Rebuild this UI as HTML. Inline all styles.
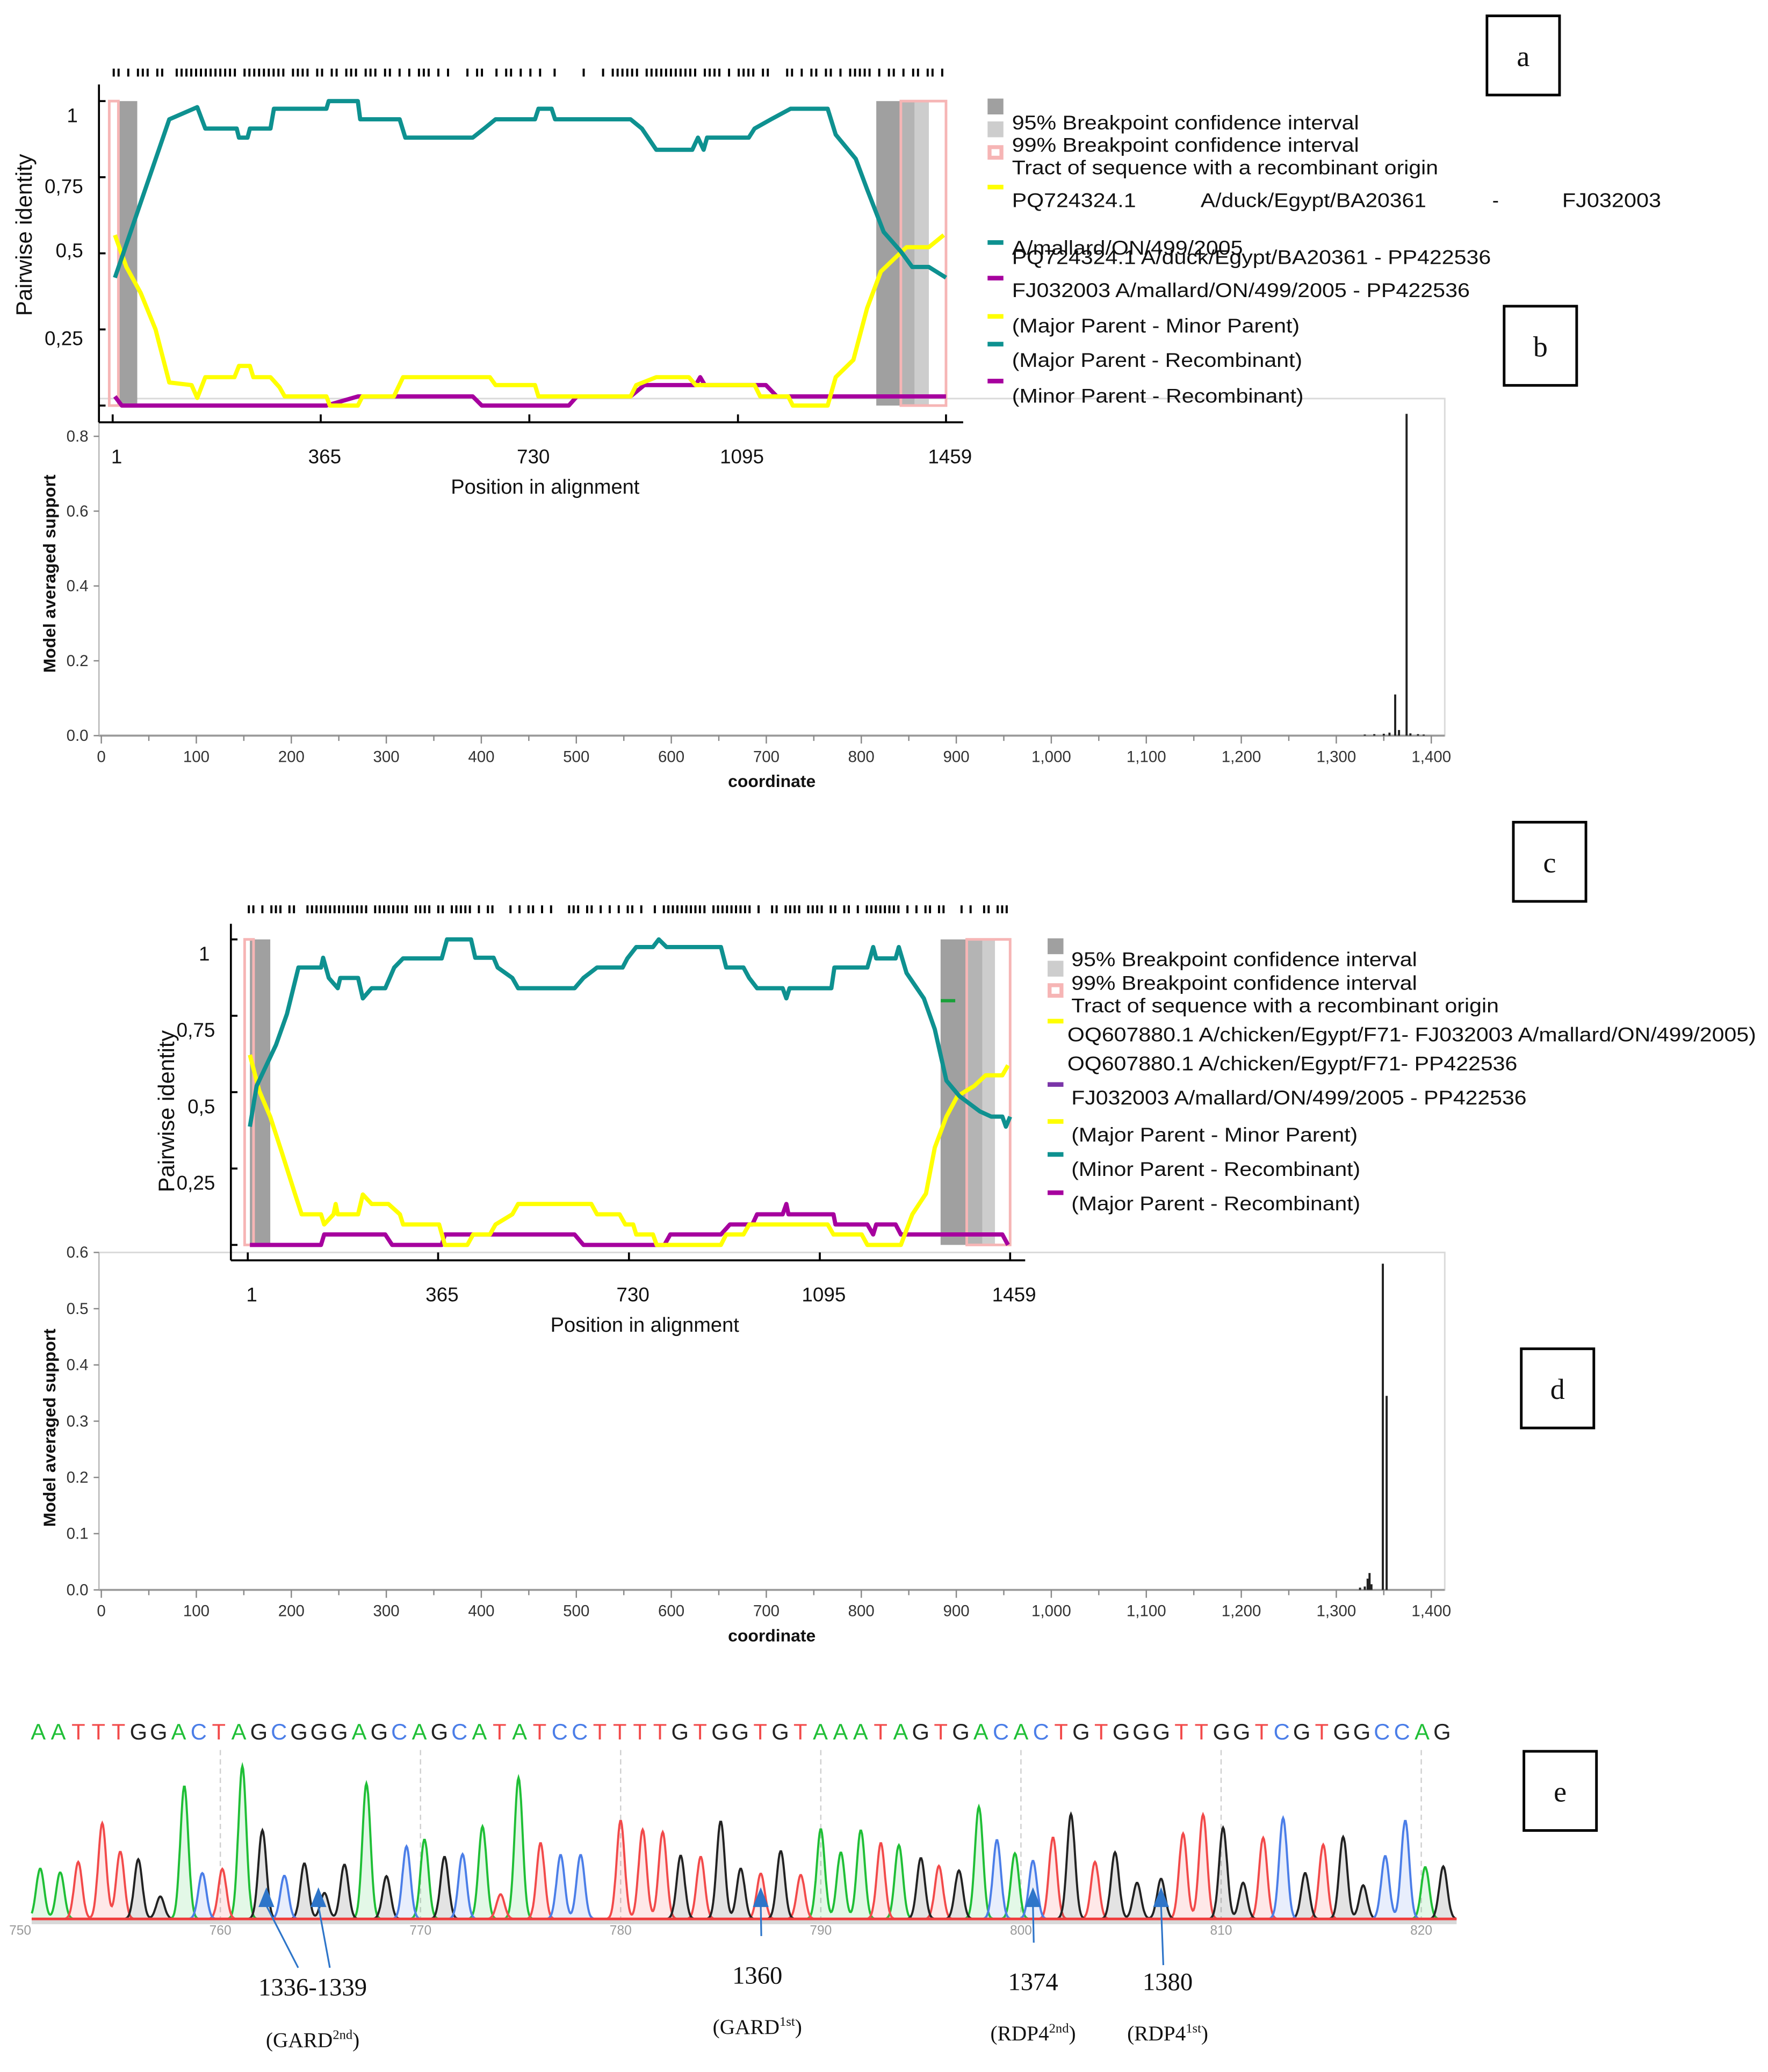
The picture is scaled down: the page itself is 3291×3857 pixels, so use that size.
<!DOCTYPE html>
<html><head><meta charset="utf-8"><style>
html,body{margin:0;padding:0;background:#fff}
svg{display:block}
text{font-family:"Liberation Sans",Arial,sans-serif}
.serif{font-family:"Liberation Serif","Times New Roman",serif}
</style></head><body>
<svg id="fig" xmlns="http://www.w3.org/2000/svg" width="3291" height="3857" viewBox="0 0 1340 1570" preserveAspectRatio="none">
<rect x="0" y="0" width="1340" height="1570" fill="#fff"/>
</svg>
<script>
// ===== Panel a data (position, pairwise identity) =====
const aTealPos=[5,100,149,163,218,222,237,241,277,283,375,379,430,434,503,513,631,651,671,740,746,769,775,907,927,952,1015,1025,1035,1041,1114,1124,1153,1187,1252,1266,1301,1321,1350,1380,1400,1429,1459];
const aTealVal=[0.42,0.94,0.98,0.91,0.91,0.88,0.88,0.91,0.91,0.975,0.975,1.0,1.0,0.94,0.94,0.88,0.88,0.91,0.94,0.94,0.975,0.975,0.94,0.94,0.91,0.84,0.84,0.88,0.84,0.88,0.88,0.91,0.94,0.975,0.975,0.89,0.81,0.71,0.57,0.506,0.455,0.455,0.42];
const aYelPos=[5,25,50,76,100,139,149,163,214,222,241,247,277,293,302,375,381,430,438,493,509,661,671,740,746,779,907,917,952,1009,1021,1124,1134,1183,1191,1252,1266,1297,1321,1345,1370,1390,1429,1455];
const aYelVal=[0.56,0.455,0.37,0.25,0.076,0.067,0.025,0.093,0.093,0.13,0.13,0.093,0.093,0.06,0.03,0.03,0.0,0.0,0.03,0.03,0.093,0.093,0.067,0.067,0.03,0.03,0.03,0.067,0.093,0.093,0.067,0.067,0.03,0.03,0.0,0.0,0.093,0.15,0.32,0.44,0.485,0.52,0.52,0.56];
const aPurPos=[5,17,375,430,631,647,799,813,907,931,1021,1029,1037,1144,1163,1459];
const aPurVal=[0.03,0.0,0.0,0.03,0.03,0.0,0.0,0.03,0.03,0.067,0.067,0.093,0.067,0.067,0.03,0.03];
const aBands=[[11,44,'#a0a0a0'],[1337,1380,'#a0a0a0'],[1380,1404,'#b4b4b4'],[1404,1429,'#cdcdcd']];
const aTracts=[[-5,11],[1380,1459]];
// ===== Panel c data =====
const cTealPos=[5,18,55,76,98,141,145,156,173,178,212,221,238,264,281,298,372,382,428,436,471,479,507,518,626,643,669,718,727,744,776,787,802,906,916,949,960,975,1024,1031,1037,1117,1123,1186,1197,1203,1240,1246,1261,1294,1315,1337,1362,1401,1423,1444,1451,1459];
const cTealVal=[0.387,0.52,0.655,0.756,0.908,0.908,0.94,0.874,0.84,0.874,0.874,0.807,0.84,0.84,0.908,0.938,0.938,1.0,1.0,0.94,0.94,0.908,0.874,0.84,0.84,0.874,0.908,0.908,0.938,0.975,0.975,1.0,0.975,0.975,0.908,0.908,0.874,0.84,0.84,0.807,0.84,0.84,0.908,0.908,0.975,0.938,0.938,0.975,0.89,0.807,0.706,0.538,0.487,0.437,0.42,0.42,0.387,0.42];
const cYelPos=[5,23,44,66,91,104,141,147,165,169,173,212,221,238,270,292,298,367,378,421,432,464,475,507,518,658,669,712,723,738,744,776,783,906,916,949,960,1110,1121,1175,1186,1250,1272,1298,1315,1337,1358,1390,1412,1444,1455];
const cYelVal=[0.622,0.504,0.42,0.303,0.168,0.10,0.10,0.067,0.10,0.134,0.10,0.10,0.165,0.134,0.134,0.10,0.067,0.067,0.0,0.0,0.034,0.034,0.067,0.10,0.134,0.134,0.10,0.10,0.067,0.067,0.034,0.034,0.0,0.0,0.034,0.034,0.067,0.067,0.034,0.034,0.0,0.0,0.10,0.168,0.319,0.42,0.487,0.52,0.555,0.555,0.588];
const cPurPos=[5,141,147,264,277,372,378,626,643,798,809,906,923,966,975,1024,1031,1035,1121,1125,1186,1197,1203,1240,1250,1444,1455];
const cPurVal=[0,0,0.034,0.034,0,0,0.034,0.034,0,0,0.034,0.034,0.067,0.067,0.10,0.10,0.134,0.10,0.10,0.067,0.067,0.034,0.067,0.067,0.034,0.034,0];
const cBands=[[5,44,'#a0a0a0'],[1326,1376,'#a0a0a0'],[1376,1406,'#b4b4b4'],[1406,1430,'#cdcdcd']];
const cTracts=[[-5,12],[1376,1459]];
const identTicks=[1,0.75,0.5,0.25,0];
const identLabels=['1','0,75','0,5','0,25',''];
const posTicks=[1,365,730,1095,1459];
// ===== Panel b / d data (model averaged support) =====
const coordTicks=[0,100,200,300,400,500,600,700,800,900,1000,1100,1200,1300,1400];
const coordLabels=['0','100','200','300','400','500','600','700','800','900','1,000','1,100','1,200','1,300','1,400'];
const bCoords=[1330,1340,1350,1356,1362,1366,1374,1378,1386,1392];
const bSupport=[0.003,0.004,0.005,0.008,0.11,0.015,0.86,0.006,0.004,0.003];
const bTicks=[0,0.2,0.4,0.6,0.8];
const bLabels=['0.0','0.2','0.4','0.6','0.8'];
const dCoords=[1325,1330,1333,1335,1337,1349,1353];
const dSupport=[0.004,0.006,0.02,0.03,0.01,0.58,0.345];
const dTicks=[0,0.1,0.2,0.3,0.4,0.5,0.6];
const dLabels=['0.0','0.1','0.2','0.3','0.4','0.5','0.6'];
// ===== Panel e data (chromatogram) =====
const seqLetters="AATTTGGACTAGCGGGAGCAGCATATCCTTTTGTGGTGTAAATAGTGACACTGTGGGTTGGTCGTGGCCAG";
const baseTicks=[750,760,770,780,790,800,810,820];
const peakBase=[751.0,752.0,752.9,754.1,755.0,755.9,757.0,758.2,759.1,760.1,761.1,762.1,763.2,764.2,765.2,766.2,767.3,768.3,769.3,770.2,771.2,772.1,773.1,774.0,774.9,776.0,777.0,778.0,780.0,781.1,782.1,783.0,784.0,785.0,786.0,787.0,788.0,789.0,790.0,791.0,792.0,793.0,793.9,795.0,795.9,796.9,797.9,798.8,799.7,800.6,801.6,802.5,803.7,804.7,805.8,807.0,808.1,809.1,810.1,811.1,812.1,813.1,814.2,815.1,816.1,817.1,818.2,819.2,820.2,821.1];
const peakHeight=[.33,.305,.373,.627,.44,.39,.147,.87,.30,.327,1.0,.58,.283,.364,.17,.356,.886,.28,.475,.52,.407,.424,.605,.161,.924,.497,.419,.419,.644,.585,.568,.415,.407,.639,.33,.297,.444,.288,.588,.436,.581,.497,.483,.398,.347,.317,.734,.517,.429,.381,.534,.686,.373,.436,.237,.263,.559,.683,.598,.237,.531,.661,.30,.486,.537,.22,.412,.644,.339,.344];
const peakDye="GGRRRKKGBRGKBKKKGKBGKBGRGRBBRRRKRKKRKRGGGRGKRKGBGBRKRKKKRRKKRBKRKKBBGK";
const markBases=[762.3,764.9,787.0,800.6,807.0];

const NS='http://www.w3.org/2000/svg';
const svg=document.getElementById('fig');
function mk(tag,attrs,parent){const e=document.createElementNS(NS,tag);for(const k in attrs)e.setAttribute(k,attrs[k]);(parent||svg).appendChild(e);return e;}
function txt(s,attrs,parent){if(!('fill' in attrs))attrs.fill='#111';const e=mk('text',attrs,parent);e.textContent=s;return e;}

// ---------- support charts (b, d) ----------
function supportChart(id,top,bottom,maxV,ticks,labels,coords,vals){
  const g=mk('g',{});
  
  
  const X=c=>76.8+c*0.72;
  const Y=v=>bottom-(v/maxV)*(bottom-top);
  const box=mk('rect',{x:75,y:top,width:1020,height:bottom-top,fill:'none',stroke:'#dadada','stroke-width':1.2},g);
  
  
  const xa=mk('line',{x1:75,y1:bottom,x2:1095,y2:bottom,stroke:'#999','stroke-width':1.5},g);
  
  
  for(let c=0;c<=1400;c+=50){const t=mk('line',{x1:X(c),y1:bottom,x2:X(c),y2:bottom+(c%100===0?6:4),stroke:'#888','stroke-width':1},g);
    
    }
  coordTicks.forEach((c,i)=>{const t=txt(coordLabels[i],{x:X(c),y:bottom+20,'text-anchor':'middle','font-size':12,fill:'#333'},g);
    
    });
  const ya=mk('line',{x1:75,y1:top,x2:75,y2:bottom,stroke:'#bbb','stroke-width':1},g);
  
  
  ticks.forEach((v,i)=>{const t=mk('line',{x1:71,y1:Y(v),x2:75,y2:Y(v),stroke:'#888','stroke-width':1},g);
    
    
    const l=txt(labels[i],{x:67,y:Y(v)+4,'text-anchor':'end','font-size':12,fill:'#333'},g);
    
    });
  coords.forEach((c,i)=>{const b=mk('rect',{x:X(c)-0.8,y:Y(vals[i]),width:1.6,height:bottom-Y(vals[i]),fill:'#222'},g);
    
    });
  const xt=txt('coordinate',{x:585,y:bottom+39,'text-anchor':'middle','font-size':13,'font-weight':'bold'},g);
  
  
  const cy=(top+bottom)/2+5;
  const yt=txt('Model averaged support',{x:42,y:cy,'text-anchor':'middle','font-size':13,'font-weight':'bold',transform:`rotate(-90 42 ${cy})`},g);
  
  
}
supportChart('panel-b',302,557.4,0.8*(557.4-302)/(557.4-330.6),bTicks,bLabels,bCoords,bSupport);
supportChart('panel-d',949,1204.7,0.6,dTicks,dLabels,dCoords,dSupport);

// ---------- identity charts (a, c) ----------
function identChart(id,o){
  const g=mk('g',{});
  
  
  const X=p=>o.x0+(p-1)/1458*(o.x1-o.x0);
  const Y=v=>o.y0-v*(o.y0-o.y1);
  o.bands.forEach(b=>{const r=mk('rect',{x:X(b[0]),y:Y(1),width:X(b[1])-X(b[0]),height:Y(0)-Y(1),fill:b[2]},g);
    
    });
  o.tracts.forEach(b=>{const r=mk('rect',{x:X(b[0]),y:Y(1),width:X(b[1])-X(b[0]),height:Y(0)-Y(1),fill:'none',stroke:'#f6b5b5','stroke-width':2},g);
    
    });
  const series=[[o.pur,o.purV,'#a6009e','minor-recombinant-line'],[o.yel,o.yelV,'#ffff00','major-minor-line'],[o.teal,o.tealV,'#0e9190','major-recombinant-line']];
  series.forEach(s=>{let d='';s[0].forEach((p,i)=>{d+=(i?'L':'M')+X(p).toFixed(1)+' '+Y(s[1][i]).toFixed(1);});
    const pth=mk('path',{d:d,fill:'none',stroke:s[2],'stroke-width':3.2,'stroke-linejoin':'round'},g);
    
    });
  const ya=mk('line',{x1:o.ax,y1:o.aTop,x2:o.ax,y2:o.aBot,stroke:'#000','stroke-width':1.5},g);
  
  
  const xa=mk('line',{x1:o.ax,y1:o.aBot,x2:o.axR,y2:o.aBot,stroke:'#000','stroke-width':1.5},g);
  
  
  identTicks.forEach((v,i)=>{const t=mk('line',{x1:o.ax,y1:Y(v),x2:o.ax+5,y2:Y(v),stroke:'#000','stroke-width':1.5},g);
    
    
    if(identLabels[i]){const l=txt(identLabels[i],{x:o.ax-8+o.labDx[i],y:Y(v)+o.labOff[i],'text-anchor':'end','font-size':15},g);
    
    }});
  posTicks.forEach(p=>{const t=mk('line',{x1:X(p),y1:o.aBot,x2:X(p),y2:o.aBot-6,stroke:'#000','stroke-width':1.5},g);
    
    
    const l=txt(String(p),{x:X(p)+3,y:o.aBot+31,'text-anchor':'middle','font-size':15},g);
    
    });
  const xt=txt('Position in alignment',{x:(o.x0+o.x1)/2+12,y:o.aBot+54,'text-anchor':'middle','font-size':15.5},g);
  
  
  const yt=txt('Pairwise identity',{x:o.ytx,y:o.yty,'text-anchor':'middle','font-size':17,transform:`rotate(-90 ${o.ytx} ${o.yty})`},g);
  
  
  for(let i=0;i<o.sites.length;i++){if(o.sites[i]==='1'){const m=mk('rect',{x:X(1)+i*(X(1459)-X(1))/o.sites.length,y:o.siteY,width:1.6,height:6,fill:'#000'},g);
    
    }}
}
identChart('panel-a',{x0:85.4,x1:717,y0:307.3,y1:76.6,ax:75,aTop:64,aBot:320,axR:730,labOff:[16,12,3,12],labDx:[-8,-4,-4,-4],ytx:24,yty:178,siteY:52,
  bands:aBands,tracts:aTracts,teal:aTealPos,tealV:aTealVal,yel:aYelPos,yelV:aYelVal,pur:aPurPos,purV:aPurVal,
  sites:'1101011101100111111111111101111111110111101101101110111011010101110101000101100101101010100100000100010111111011111111111011110101111011000110101101101011111010110101101101'});
identChart('panel-c',{x0:187.8,x1:765.6,y0:943.3,y1:711.8,ax:175,aTop:700,aBot:955,axR:777,labOff:[16,16,16,16],labDx:[-8,-4,-4,-4],ytx:132,yty:842,siteY:686,
  bands:cBands,tracts:cTracts,teal:cTealPos,tealV:cTealVal,yel:cYelPos,yelV:cYelVal,pur:cPurPos,purV:cPurVal,
  sites:'1101011101100111111111111110111111110111101101111101011000101011010100011101101010101101001011111111110111111111010011011110111101101101011111111010101101100010100110111'});
{const gd=mk('rect',{x:713,y:757,width:11,height:2.5,fill:'#1aa03a'});

}

// ---------- legends ----------
function legend(id,sx,tx,items){
  const g=mk('g',{});
  
  
  items.forEach(it=>{
    if(it.sw){let s;
      if(it.sw==='box'){s=mk('rect',{x:sx+1.5,y:it.sy+1.5,width:9,height:8,fill:'#fff',stroke:'#f6b5b5','stroke-width':3},g);}
      else if(it.sh==='sq'){s=mk('rect',{x:sx,y:it.sy,width:12,height:12,fill:it.sw},g);}
      else {s=mk('rect',{x:sx,y:it.sy,width:12,height:3.5,fill:it.sw},g);}
      
      }
    if(it.t){const a={x:it.tx||tx,y:it.ty,'font-size':15};if(it.w){a.textLength=it.w;a.lengthAdjust='spacingAndGlyphs';}
      const t=txt(it.t,a,g);
      
      }
  });
}
legend('panel-a',748.5,767,[
 {sw:'#a0a0a0',sh:'sq',sy:74.7,t:'95% Breakpoint confidence interval',ty:98,w:263},
 {sw:'#cdcdcd',sh:'sq',sy:92,t:'99% Breakpoint confidence interval',ty:115,w:263},
 {sw:'box',sy:110,t:'Tract of sequence with a recombinant origin',ty:132,w:323},
 {sw:'#ffff00',sy:140,t:'PQ724324.1',ty:157,w:94},
 {t:'A/duck/Egypt/BA20361',tx:910,ty:157,w:171},
 {t:'-',tx:1131,ty:157},
 {t:'FJ032003',tx:1184,ty:157,w:75},
 {sw:'#0e9190',sy:182,t:'A/mallard/ON/499/2005',ty:193,w:175},
 {t:'PQ724324.1 A/duck/Egypt/BA20361 - PP422536',ty:200,w:363},
 {sw:'#a6009e',sy:209,t:'FJ032003 A/mallard/ON/499/2005 - PP422536',ty:225,w:347},
 {sw:'#ffff00',sy:238,t:'(Major Parent - Minor Parent)',ty:252,w:218},
 {sw:'#0e9190',sy:259,t:'(Major Parent - Recombinant)',ty:278,w:220},
 {sw:'#a6009e',sy:287,t:'(Minor Parent - Recombinant)',ty:305,w:221}]);
legend('panel-c',794,812,[
 {sw:'#a0a0a0',sh:'sq',sy:711,t:'95% Breakpoint confidence interval',ty:732,w:262},
 {sw:'#cdcdcd',sh:'sq',sy:728,t:'99% Breakpoint confidence interval',ty:750,w:262},
 {sw:'box',sy:745,t:'Tract of sequence with a recombinant origin',ty:767,w:324},
 {sw:'#ffff00',sy:772,t:'OQ607880.1 A/chicken/Egypt/F71- FJ032003 A/mallard/ON/499/2005)',tx:809,ty:789,w:522},
 {t:'OQ607880.1 A/chicken/Egypt/F71- PP422536',tx:809,ty:811,w:341},
 {sw:'#7a35a8',sy:820,t:'FJ032003 A/mallard/ON/499/2005 - PP422536',ty:837,w:345},
 {sw:'#ffff00',sy:848,t:'(Major Parent - Minor Parent)',ty:865,w:217},
 {sw:'#0e9190',sy:873,t:'(Minor Parent - Recombinant)',ty:891,w:219},
 {sw:'#a6009e',sy:902,t:'(Major Parent - Recombinant)',ty:917,w:219}]);

// ---------- panel label boxes ----------
[['a',1127,12],['b',1140,232],['c',1147,623],['d',1153,1022],['e',1155,1327]].forEach(L=>{
  const r=mk('rect',{x:L[1],y:L[2],width:55,height:60,fill:'#fff',stroke:'#000','stroke-width':2});
  
  
  const t=txt(L[0],{x:L[1]+27.5,y:L[2]+38,'text-anchor':'middle','font-size':22,class:'serif'});
  
  
});

// ---------- panel e chromatogram ----------
{
const g=mk('g',{});


const BX=b=>167+(b-760)*15.17;
const base=1454, H=115.8, sig=0.2;
const dyeColor={G:'#1fbf36',R:'#f24a4a',K:'#222222',B:'#4b7ee8'};
const dyeFill={G:'rgba(40,200,70,0.13)',R:'rgba(245,90,90,0.14)',K:'rgba(60,60,60,0.14)',B:'rgba(80,120,235,0.13)'};
const lc={A:'#1fbf36',C:'#4b7ee8',G:'#222',T:'#f24a4a'};
for(let i=0;i<seqLetters.length;i++){const ch=seqLetters[i];
  const t=txt(ch,{x:29+i*(1093-29)/(seqLetters.length-1),y:1318,'text-anchor':'middle','font-size':17,fill:lc[ch]},g);
  
  }
baseTicks.forEach(b=>{if(b>=760){const l=mk('line',{x1:BX(b),y1:1326,x2:BX(b),y2:base,stroke:'#cfcfcf','stroke-width':1,'stroke-dasharray':'4 3'},g);
  
  }});
['G','R','K','B'].forEach(dy=>{
  let d='';
  for(let b=749.5;b<=822.3;b+=0.04){let s=0;for(let i=0;i<peakBase.length;i++){if(peakDye[i]===dy){const z=(b-peakBase[i])/sig;if(Math.abs(z)<5)s+=peakHeight[i]*Math.exp(-0.5*z*z);}}
    const x=BX(b);if(x<24||x>1104)continue;d+=(d?'L':'M')+x.toFixed(1)+' '+(base-Math.min(s,1.05)*H).toFixed(1);}
  const f=mk('path',{d:d+'L1104 '+base+'L24 '+base+'Z',fill:dyeFill[dy],stroke:'none'},g);
  
  
  const p=mk('path',{d:d,fill:'none',stroke:dyeColor[dy],'stroke-width':1.6},g);
  
  
});
const bl=mk('rect',{x:24,y:base-1,width:1080,height:5,fill:'#d8d8d8'},g);


const br=mk('line',{x1:24,y1:base,x2:1104,y2:base,stroke:'#f03b3b','stroke-width':2},g);


baseTicks.forEach(b=>{const t=txt(String(b),{x:BX(b),y:1466,'text-anchor':'middle','font-size':10,fill:'#999'},g);
  
  });
const arrowTails=[[226,1491],[250,1491],[577,1467],[783.5,1472],[881.7,1489]];
markBases.forEach((b,i)=>{const x=BX(b);const tl=arrowTails[i];
  const l=mk('line',{x1:tl[0],y1:tl[1],x2:x,y2:1444,stroke:'#2e75c9','stroke-width':1.3},g);
  
  
  const h=mk('path',{d:`M${x} 1430 L${x-6} 1445 L${x+6} 1445 Z`,fill:'#2e75c9'},g);
  
  });
const ann=[['1336-1339',237,1512,'GARD','2nd',237,1551],['1360',574,1503,'GARD','1st',574,1541],['1374',783,1508,'RDP4','2nd',783,1546],['1380',885,1508,'RDP4','1st',885,1546]];
ann.forEach(a=>{const t=txt(a[0],{x:a[1],y:a[2],'text-anchor':'middle','font-size':19,class:'serif'},g);
  
  
  const m=mk('text',{x:a[5],y:a[6],'text-anchor':'middle','font-size':16,class:'serif',fill:'#111'},g);
  
  
  m.appendChild(document.createTextNode('('+a[3]));
  const sp=document.createElementNS(NS,'tspan');sp.setAttribute('font-size','10');sp.setAttribute('dy','-6');sp.textContent=a[4];m.appendChild(sp);
  const sp2=document.createElementNS(NS,'tspan');sp2.setAttribute('dy','6');sp2.textContent=')';m.appendChild(sp2);
});
}
</script>
</body></html>
